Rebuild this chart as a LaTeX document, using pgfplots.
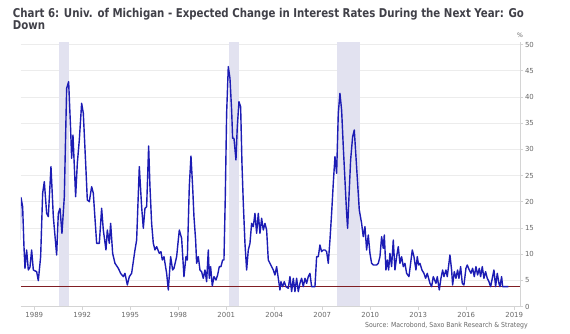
\documentclass[border=0pt]{standalone}
\usepackage{fontspec}
\setmainfont{DejaVu Sans}
\usepackage{graphicx}
\usepackage{pgfplots}
\pgfplotsset{compat=1.18}
\definecolor{lineblue}{RGB}{28,28,180}
\definecolor{recband}{RGB}{226,226,240}
\definecolor{gridc}{RGB}{236,236,236}
\definecolor{axc}{RGB}{212,212,212}
\definecolor{txtc}{RGB}{105,105,105}
\definecolor{titlec}{RGB}{64,64,72}
\definecolor{redl}{RGB}{128,30,36}
\begin{document}
\begin{tikzpicture}
\useasboundingbox (0pt,0pt) rectangle (427.5pt,250.5pt);
\fill[white] (0pt,0pt) rectangle (427.5pt,250.5pt);
\begin{axis}[
  at={(15.75pt,20.625pt)}, anchor=south west, scale only axis,
  width=374.25pt, height=198.45pt,
  xmin=1988.17, xmax=2019.36, ymin=0, ymax=50.5,
  axis x line*=bottom, axis y line*=right,
  axis line style={axc, line width=0.5pt},
  tick align=outside, major tick length=2.6pt,
  tick style={axc, line width=0.5pt},
  xtick={1989,1992,...,2019},
  ytick={0,5,...,50},
  ymajorgrids, grid style={gridc, line width=0.5pt},
  /pgf/number format/assume math mode=true,
  xticklabel={\pgfmathprintnumber[1000 sep={},fixed,precision=0]{\tick}},
  xticklabel style={font=\fontsize{5.2}{6}\selectfont, text=txtc, inner sep=0pt, yshift=-1.8pt},
  yticklabel style={font=\fontsize{5.2}{6}\selectfont, text=txtc, inner sep=0pt, anchor=west, xshift=1pt},
  clip=true,
]
% recession bands
\addplot[fill=recband, draw=none] coordinates {(1990.54,0) (1990.54,50.5) (1991.17,50.5) (1991.17,0)} -- cycle;
\addplot[fill=recband, draw=none] coordinates {(2001.19,0) (2001.19,50.5) (2001.82,50.5) (2001.82,0)} -- cycle;
\addplot[fill=recband, draw=none] coordinates {(2007.90,0) (2007.90,50.5) (2009.37,50.5) (2009.37,0)} -- cycle;
% reference line
\addplot[redl, line width=1.1pt] coordinates {(1988.17,3.85) (2019.36,3.85)};
% series
\addplot[lineblue, line width=1.05pt, line join=round] coordinates {
(1988.106,12.06) (1988.169,20.8) (1988.273,19.05) (1988.356,11.42) (1988.419,7.29)
(1988.523,10.79) (1988.627,6.97) (1988.731,7.5) (1988.835,10.79) (1988.94,6.97)
(1989.044,6.8) (1989.148,6.65) (1989.252,4.93) (1989.398,9.51) (1989.523,21.6)
(1989.627,23.83) (1989.773,17.78) (1989.877,17.15) (1990.044,26.69) (1990.19,17.15)
(1990.398,9.83) (1990.502,17.78) (1990.606,18.74) (1990.731,13.97) (1990.877,20.96)
(1991.023,41.64) (1991.148,42.91) (1991.273,33.69) (1991.335,28.28) (1991.419,32.73)
(1991.585,20.96) (1991.69,27.33) (1991.815,31.78) (1991.96,38.78) (1992.065,36.87)
(1992.231,26.05) (1992.315,20.33) (1992.44,20.01) (1992.585,22.87) (1992.69,21.6)
(1992.898,12.06) (1993.065,12.06) (1993.21,18.74) (1993.315,14.6) (1993.481,10.79)
(1993.565,14.6) (1993.69,12.06) (1993.773,15.87) (1993.898,10.15) (1994.044,8.24)
(1994.252,7.29) (1994.398,6.33) (1994.565,5.70) (1994.669,6.33) (1994.815,4.11)
(1994.94,5.70) (1995.085,6.33) (1995.294,10.79) (1995.398,12.69) (1995.565,26.69)
(1995.71,19.05) (1995.815,14.92) (1995.919,18.74) (1996.023,19.05) (1996.148,30.63)
(1996.231,22.87) (1996.335,15.87) (1996.44,12.06) (1996.544,10.79) (1996.648,11.42)
(1996.815,10.15) (1996.919,10.47) (1997.002,8.88) (1997.106,9.51) (1997.273,6.33)
(1997.377,3.15) (1997.523,9.51) (1997.648,6.97) (1997.731,7.29) (1997.898,9.51)
(1998.002,12.69) (1998.065,14.6) (1998.21,13.01) (1998.356,5.70) (1998.481,9.51)
(1998.564,8.88) (1998.689,22.87) (1998.794,28.72) (1998.898,22.87) (1998.981,17.15)
(1999.085,12.69) (1999.148,8.24) (1999.252,9.51) (1999.356,6.97) (1999.46,6.65)
(1999.564,5.38) (1999.669,6.97) (1999.773,4.74) (1999.877,10.79) (1999.939,5.38)
(2000.023,7.61) (2000.127,3.92) (2000.231,5.70) (2000.356,5.06) (2000.46,6.01)
(2000.564,7.61) (2000.669,7.61) (2000.773,8.88) (2000.856,8.88) (2000.939,20.96)
(2001.023,36.87) (2001.127,45.77) (2001.231,43.55) (2001.335,37.50) (2001.398,32.10)
(2001.481,32.10) (2001.606,27.96) (2001.689,34.32) (2001.794,39.09) (2001.898,38.14)
(2001.981,27.33) (2002.065,19.69) (2002.169,12.06) (2002.273,6.97) (2002.377,10.79)
(2002.481,12.06) (2002.585,15.87) (2002.689,15.24) (2002.794,17.78) (2002.898,13.97)
(2003.002,17.78) (2003.106,13.97) (2003.21,16.83) (2003.314,14.6) (2003.419,15.87)
(2003.523,14.6) (2003.627,8.88) (2003.731,8.24) (2003.835,7.61) (2003.939,6.97)
(2004.044,6.01) (2004.148,7.61) (2004.252,5.38) (2004.356,3.15) (2004.419,4.74)
(2004.523,3.79) (2004.627,4.74) (2004.731,3.79) (2004.877,3.47) (2004.981,5.70)
(2005.085,2.84) (2005.19,5.38) (2005.294,2.84) (2005.398,5.38) (2005.502,2.84)
(2005.606,4.42) (2005.71,5.38) (2005.814,3.79) (2005.919,5.38) (2006.023,4.42)
(2006.127,5.70) (2006.231,6.33) (2006.335,3.79) (2006.439,3.79) (2006.544,3.79)
(2006.648,9.51) (2006.752,9.51) (2006.856,11.74) (2006.96,10.47) (2007.064,10.79)
(2007.169,10.79) (2007.273,10.47) (2007.377,8.24) (2007.481,12.69) (2007.585,17.78)
(2007.689,23.51) (2007.794,28.60) (2007.898,25.42) (2008.002,36.87) (2008.106,40.68)
(2008.21,37.50) (2008.314,30.51) (2008.419,24.14) (2008.523,17.78) (2008.585,14.92)
(2008.689,22.24) (2008.773,27.96) (2008.898,32.41) (2009.002,33.69) (2009.106,28.60)
(2009.21,23.51) (2009.314,18.42) (2009.46,15.87) (2009.564,13.33) (2009.669,15.24)
(2009.773,10.79) (2009.877,13.65) (2009.981,10.15) (2010.085,8.24) (2010.19,7.92)
(2010.398,7.92) (2010.502,8.24) (2010.606,9.51) (2010.71,13.33) (2010.814,11.1)
(2010.877,13.65) (2010.981,6.97) (2011.064,8.88) (2011.148,6.97) (2011.231,10.15)
(2011.335,7.61) (2011.439,12.69) (2011.544,6.97) (2011.648,9.51) (2011.752,11.42)
(2011.856,8.24) (2011.96,9.51) (2012.064,7.61) (2012.169,8.24) (2012.273,6.33)
(2012.419,5.70) (2012.523,8.24) (2012.627,10.79) (2012.731,9.51) (2012.856,6.97)
(2012.939,9.51) (2013.023,7.92) (2013.106,8.24) (2013.231,6.97) (2013.356,6.33)
(2013.46,5.38) (2013.564,6.33) (2013.731,4.42) (2013.835,3.79) (2013.939,5.70)
(2014.106,4.42) (2014.19,5.70) (2014.314,3.15) (2014.419,5.38) (2014.523,6.97)
(2014.606,5.70) (2014.731,6.97) (2014.814,5.70) (2014.981,9.83) (2015.085,6.97)
(2015.148,4.11) (2015.252,6.65) (2015.356,5.38) (2015.46,6.97) (2015.544,5.38)
(2015.648,7.61) (2015.752,4.42) (2015.856,4.11) (2015.981,7.29) (2016.064,7.92)
(2016.189,6.97) (2016.294,6.33) (2016.398,7.29) (2016.502,5.70) (2016.606,7.61)
(2016.71,6.01) (2016.814,7.29) (2016.898,5.70) (2017.002,7.61) (2017.106,5.38)
(2017.21,6.65) (2017.314,5.38) (2017.419,4.74) (2017.523,3.79) (2017.627,5.38)
(2017.731,6.97) (2017.835,3.79) (2017.939,6.33) (2018.044,4.42) (2018.106,3.79)
(2018.21,5.70) (2018.273,3.79) (2018.419,3.79) (2018.627,3.79)
};
\end{axis}
\node[anchor=south, inner sep=0pt, text=txtc, font=\fontsize{4.6}{5}\selectfont] at (390pt,222pt) {\%};
\node[anchor=north west, inner sep=0pt, text=titlec] at (9.5pt,244.8pt) {\resizebox{383.25pt}{\height}{\fontsize{9.1}{9.2}\selectfont\bfseries\begin{tabular}{@{}l@{}}Chart 6: Univ. of Michigan - Expected Change in Interest Rates During the Next Year: Go\\Down\end{tabular}}};
\node[anchor=east, inner sep=0pt, text=txtc] at (396pt,6pt) {\resizebox{122pt}{\height}{\fontsize{5.2}{6}\selectfont Source: Macrobond, Saxo Bank Research \& Strategy}};
\end{tikzpicture}
\end{document}
